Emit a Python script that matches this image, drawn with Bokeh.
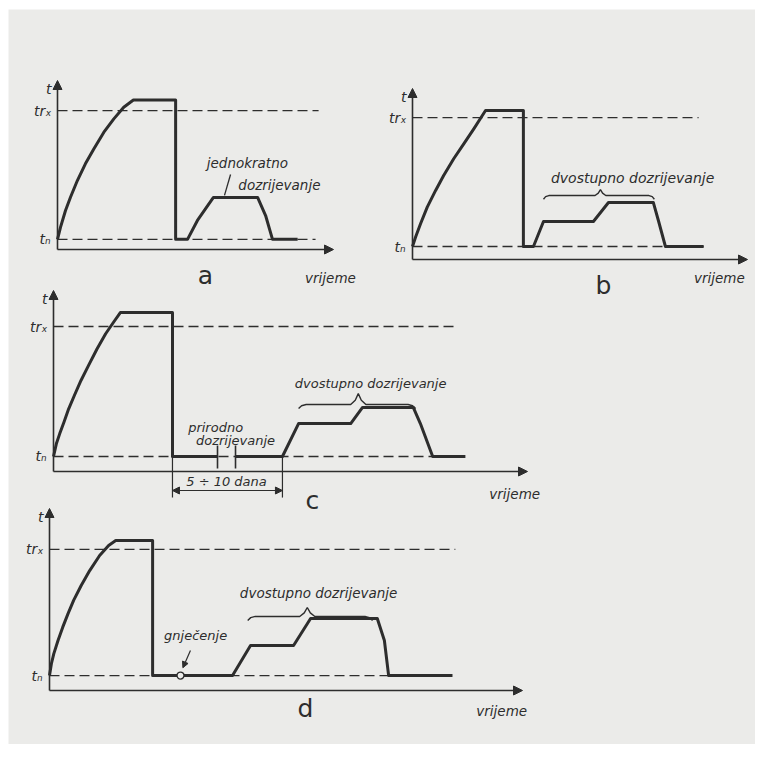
import numpy as np
from bokeh.plotting import figure
from bokeh.models import Range1d, Arrow, NormalHead
from bokeh.core.properties import value
from bokeh.embed import file_html
from bokeh.resources import INLINE

NaN = np.nan

# ---------------- data (panel units: time and temperature, 0..100 = arrow tips) ----------------
# a - jednokratno dozrijevanje
a_time = [0, 1.1, 2.9, 4.7, 7.2, 10.1, 13.2, 16.8, 20.4, 24.0, 27.5,
          42.8, 42.8, 47.1, 50.7, 56.5, 72.5, 75.4, 77.9, 87.0]
a_temp = [6.0, 13.2, 23.1, 30.9, 40.8, 50.7, 59.6, 69.4, 77.3, 84.2, 88.5,
          88.5, 6.0, 6.0, 17.2, 30.8, 30.8, 20.1, 6.0, 6.0]
a_tn, a_trx = 6.0, 82.2
a_tn_end, a_trx_end = 93.5, 94.6

# b - dvostupno dozrijevanje
b_time = [0, 0.9, 2.4, 4.4, 6.9, 9.3, 12.3, 15.3, 18.3, 21.8,
          33.1, 33.1, 36.1, 39.1, 54.0, 58.5, 71.9, 73.4, 75.5, 86.9]
b_temp = [7.6, 13.0, 20.9, 30.6, 40.4, 49.1, 58.9, 67.6, 76.4, 87.1,
          87.1, 7.6, 7.6, 22.2, 22.2, 33.3, 33.3, 22.8, 7.6, 7.6]
b_tn, b_trx = 7.6, 83.0
b_tn_end, b_trx_end = 86.9, 85.4
b_brace_time = [39.1, 56.1, 72.2]
b_brace_temp = [37.4, 40.9]

# c - prirodno + dvostupno dozrijevanje
c_time = [0, 0.6, 1.3, 2.2, 3.2, 4.4, 5.8, 7.4, 9.2, 11.0, 12.7, 14.1,
          25.1, 25.1, 34.6, NaN, 38.4, 48.3, 51.7, 62.7, 65.2, 75.9, 77.4, 80.0, 86.9]
c_temp = [8.3, 15.3, 20.8, 27.2, 34.6, 42.0, 50.3, 58.6, 67.8, 76.1, 82.6, 87.8,
          87.8, 8.3, 8.3, NaN, 8.3, 8.3, 26.5, 26.5, 35.4, 35.4, 26.5, 8.3, 8.3]
c_tn, c_trx = 8.3, 80.1
c_tn_end, c_trx_end = 86.3, 84.4
c_break_time = [34.6, 38.4]
c_span_time = [25.1, 48.3]          # 5 ÷ 10 dana
c_brace_time = [51.7, 64.3, 76.4]
c_brace_temp = [37.0, 43.0]

# d - gnjecenje + dvostupno dozrijevanje
d_time = [0, 0.4, 0.9, 1.8, 2.8, 3.9, 5.1, 6.7, 8.5, 10.6, 12.5, 14.0,
          21.8, 21.8, 38.7, 42.5, 51.6, 55.2, 69.3, 70.8, 71.7, 85.2]
d_temp = [8.2, 14.7, 20.1, 27.5, 34.8, 42.1, 49.5, 57.7, 65.9, 74.2, 79.7, 82.4,
          82.4, 8.2, 8.2, 24.7, 24.7, 39.6, 39.6, 27.5, 8.2, 8.2]
d_tn, d_trx = 8.2, 77.5
d_tn_end, d_trx_end = 84.8, 85.8
d_press_time = 27.7
d_brace_time = [41.9, 54.5, 68.3]
d_brace_temp = [40.7, 45.6]

# ---------------- layout / style ----------------
W, H = 755, 744
BL, BT = 8, 9                      # white strip left / top (scan edge)
PX0, PY0 = BL, BT
FW, FH = W - BL, H - BT            # frame size
BG = "#ebebe9"
INK = "#2d2d2d"
FONT = value("DejaVu Sans")

# page-pixel placement of each panel: origin x, origin y, x-arrow tip, y-arrow tip
GEOM = {
    "a": (57, 249, 333, 80),
    "b": (412, 259, 747, 88),
    "c": (53, 471, 527, 290),
    "d": (49, 690, 522, 508),
}

p = figure(width=W, height=H, output_backend="svg", toolbar_location=None,
           x_range=Range1d(0, 1), y_range=Range1d(0, 1),
           x_axis_type=None, y_axis_type=None,
           min_border_left=BL, min_border_top=BT, min_border_right=0, min_border_bottom=0,
           background_fill_color=BG, border_fill_color="white", outline_line_color=None)
p.grid.visible = False

xr, yr = {}, {}
for k, (ox, oy, tx, ty) in GEOM.items():
    ux = 100.0 / (tx - ox)
    uy = 100.0 / (oy - ty)
    xr[k] = Range1d((PX0 - ox) * ux, (PX0 + FW - ox) * ux)
    yr[k] = Range1d((oy - (PY0 + FH)) * uy, (oy - PY0) * uy)
p.extra_x_ranges = xr
p.extra_y_ranges = yr


def R(k):
    return dict(x_range_name=k, y_range_name=k)


def txt(k, xs, ys, texts, size="13px", style="italic", align="center", baseline="middle", xoff=0):
    p.text(x=xs, y=ys, text=texts, text_font=FONT, text_font_size=size, text_font_style=style,
           text_align=align, text_baseline=baseline, text_color=INK, x_offset=xoff, **R(k))


def brace(k, bt, btemp, dx=1.6, dy=2.2):
    xl, xm, xrr = bt
    yb, yt = btemp
    xs = [xl, xl + 0.4 * dx, xl + dx, xm - dx, xm - 0.4 * dx, xm, xm + 0.4 * dx, xm + dx, xrr - dx, xrr - 0.4 * dx, xrr]
    ys = [yb - dy, yb - 0.3 * dy, yb, yb, yb + 0.4 * (yt - yb), yt, yb + 0.4 * (yt - yb), yb, yb, yb - 0.3 * dy, yb - dy]
    p.line(xs, ys, line_color=INK, line_width=1.4, **R(k))


def base_panel(k, time, temp, tn, trx, tn_end, trx_end, letter, letter_xy, vr_xy):
    # axes with arrows
    p.add_layout(Arrow(end=NormalHead(size=9, fill_color=INK, line_color=INK, line_width=1),
                       x_start=0, y_start=0, x_end=0, y_end=100,
                       line_color=INK, line_width=1.6, **R(k)))
    p.add_layout(Arrow(end=NormalHead(size=9, fill_color=INK, line_color=INK, line_width=1),
                       x_start=0, y_start=0, x_end=100, y_end=0,
                       line_color=INK, line_width=1.6, **R(k)))
    # reference levels
    p.line([0, trx_end], [trx, trx], line_color=INK, line_width=1.3, line_dash="10 5", **R(k))
    p.line([0, tn_end], [tn, tn], line_color=INK, line_width=1.3, line_dash="10 5", **R(k))
    # temperature-time curve
    p.line(time, temp, line_color=INK, line_width=3, line_join="round", **R(k))
    # axis labels
    txt(k, [0], [100], ["t"], size="14px", align="right", baseline="top", xoff=-6)
    txt(k, [0], [trx], ["trₓ"], size="14px", align="right", xoff=-6)
    txt(k, [0], [tn], ["tₙ"], size="14px", align="right", xoff=-7)
    txt(k, [vr_xy[0]], [vr_xy[1]], ["vrijeme"], size="13.5px")
    txt(k, [letter_xy[0]], [letter_xy[1]], [letter], size="25px", style="normal")


# panel a
base_panel("a", a_time, a_temp, a_tn, a_trx, a_tn_end, a_trx_end, "a", (53.6, -15.5), (98.9, -16.6))
txt("a", [68.8, 80.4], [50.9, 37.9], ["jednokratno", "dozrijevanje"], size="13.5px")
p.line([60.5, 62.7], [32.0, 44.4], line_color=INK, line_width=1.3, **R("a"))

# panel b
base_panel("b", b_time, b_temp, b_tn, b_trx, b_tn_end, b_trx_end, "b", (57.0, -15.2), (91.6, -11.1))
brace("b", b_brace_time, b_brace_temp)
txt("b", [65.7], [47.4], ["dvostupno dozrijevanje"], size="14px")

# panel c
base_panel("c", c_time, c_temp, c_tn, c_trx, c_tn_end, c_trx_end, "c", (54.6, -16.0), (97.3, -12.2))
for bt in c_break_time:
    p.line([bt, bt], [1.7, 14.4], line_color=INK, line_width=1.6, **R("c"))
for st in c_span_time:
    p.line([st, st], [c_tn, -14.4], line_color=INK, line_width=1.2, **R("c"))
p.add_layout(Arrow(start=NormalHead(size=7, fill_color=INK, line_color=INK),
                   end=NormalHead(size=7, fill_color=INK, line_color=INK),
                   x_start=c_span_time[0], y_start=-10.5, x_end=c_span_time[1], y_end=-10.5,
                   line_color=INK, line_width=1.2, **R("c")))
txt("c", [36.5], [-5.6], ["5 ÷ 10 dana"], size="13px")
txt("c", [34.2, 38.4], [24.3, 17.1], ["prirodno", "dozrijevanje"], size="13px")
brace("c", c_brace_time, c_brace_temp)
txt("c", [66.9], [48.6], ["dvostupno dozrijevanje"], size="13px")

# panel d
base_panel("d", d_time, d_temp, d_tn, d_trx, d_tn_end, d_trx_end, "d", (54.1, -9.9), (95.6, -11.0))
p.add_layout(Arrow(end=NormalHead(size=6, fill_color=INK, line_color=INK),
                   x_start=29.8, y_start=22.0, x_end=28.2, y_end=12.5,
                   line_color=INK, line_width=1.2, **R("d")))
p.scatter([d_press_time], [d_tn], marker="circle", size=7, fill_color=BG, line_color=INK,
          line_width=1.4, **R("d"))
txt("d", [30.9], [30.2], ["gnječenje"], size="13px")
brace("d", d_brace_time, d_brace_temp)
txt("d", [56.9], [53.3], ["dvostupno dozrijevanje"], size="13.5px")

open("out.html", "w").write(file_html(p, INLINE))
